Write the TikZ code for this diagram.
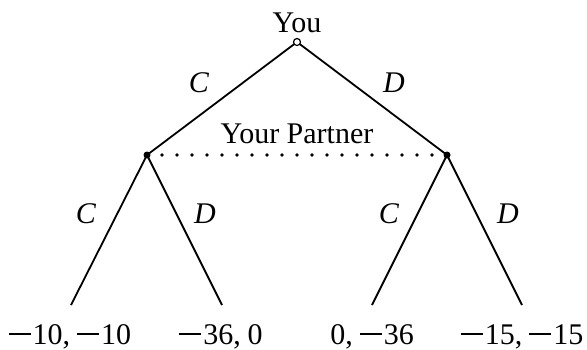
\documentclass[tikz,border=0pt]{standalone}
\usepackage{fontspec}
\setmainfont{Liberation Serif}
\newcommand\mymin{\rule[9.5pt]{22pt}{1.8pt}\kern2pt}
\newcommand\mycomma{,\kern7pt}
\begin{document}
\begin{tikzpicture}[x=1pt,y=-1pt,
  edge/.style={line width=1.8pt},
  solid dot/.style={circle,fill=black,inner sep=0pt,minimum size=7pt},
  open dot/.style={circle,draw=black,fill=white,line width=1.2pt,inner sep=0pt,minimum size=7pt},
  lbl/.style={font=\fontsize{30}{36}\selectfont,inner sep=0pt,anchor=base},
  info/.style={line width=3.6pt,line cap=round,dash pattern=on 0pt off 15pt}]
\useasboundingbox (0,0) rectangle (587,349);
\coordinate (l1) at (71,305);
\coordinate (l2) at (222,305);
\coordinate (l3) at (372,305);
\coordinate (l4) at (522,305);
\draw[edge] (297,42) coordinate (r) -- (147,155) coordinate (a);
\draw[edge] (r) -- (447,155) coordinate (b);
\draw[edge] (a) -- (l1);
\draw[edge] (a) -- (l2);
\draw[edge] (b) -- (l3);
\draw[edge] (b) -- (l4);
\draw[info] (a) -- (b);
\node[solid dot] (na) at (a) {};
\node[solid dot] (nb) at (b) {};
\node[open dot] (nr) at (r) {};
\node[lbl] (you) at (297,32) {You};
\node[lbl] (yp) at (297,143) {Your Partner};
\node[lbl] (c1) at (199,92) {\textit{C}};
\node[lbl] (d1) at (394,92) {\textit{D}};
\node[lbl] (c2) at (86,223) {\textit{C}};
\node[lbl] (d2) at (205,223) {\textit{D}};
\node[lbl] (c3) at (389,223) {\textit{C}};
\node[lbl] (d3) at (508,223) {\textit{D}};
\node[lbl] (p1) at (70,344) {\mymin10\mycomma\mymin10};
\node[lbl] (p2) at (221,344) {\mymin36\mycomma0};
\node[lbl] (p3) at (372,344) {0\mycomma\mymin36};
\node[lbl] (p4) at (522,344) {\mymin15\mycomma\mymin15};
\end{tikzpicture}
\end{document}
